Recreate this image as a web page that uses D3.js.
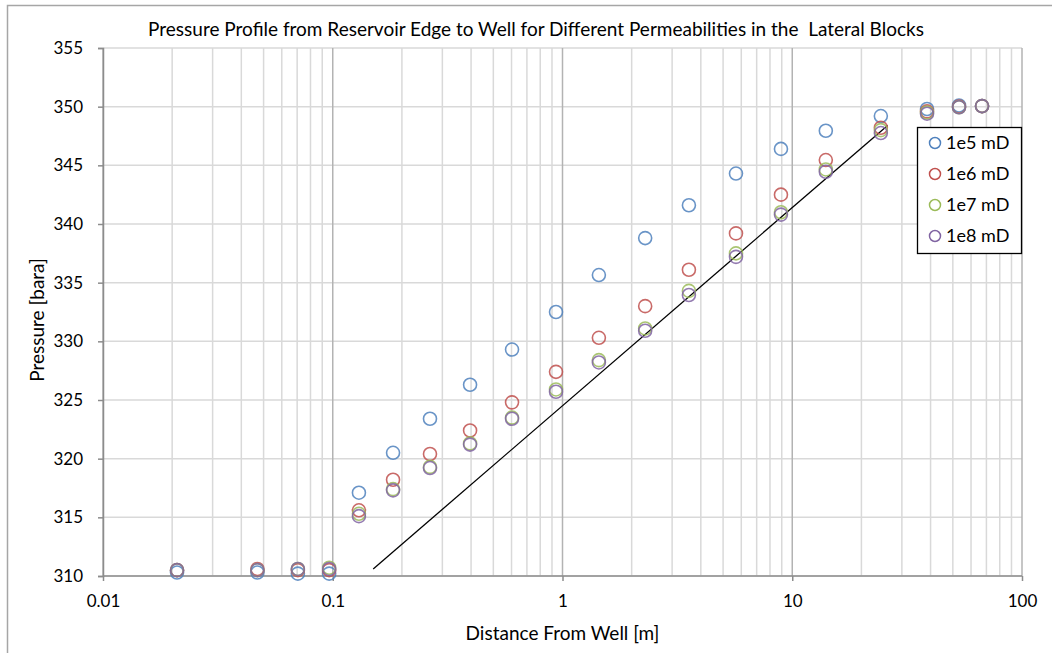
<!DOCTYPE html>
<html>
<head>
<style>
body { margin: 0; background: #fff; }
svg text { font-family: Lato, "Open Sans", sans-serif; fill: #000; }
.grid line { stroke: #d9d9d9; stroke-width: 1.5; }
.grid .major { stroke: #b3b3b3; }
</style>
</head>
<body>
<div id="container"></div>
<script src="https://d3js.org/d3.v7.min.js"></script>
<script>

const width = 1052;
const height = 653;

// distance from well [m]
const distances = [0.021, 0.047, 0.0705, 0.0965, 0.13, 0.183, 0.265, 0.396, 0.603, 0.937,
                   1.44, 2.29, 3.55, 5.69, 8.93, 14.0, 24.3, 38.6, 53.2, 67.0];

const series = ['1e5 mD', '1e6 mD', '1e7 mD', '1e8 mD'];
const colors = ['#4f81bd', '#c0504d', '#9bbb59', '#8064a2'];

const p1e5 = [310.3, 310.3, 310.2, 310.2, 317.1, 320.5, 323.4, 326.3, 329.3, 332.5,
              335.65, 338.8, 341.6, 344.3, 346.4, 347.95, 349.2, 349.8, 350.1, 350.05];
const p1e6 = [310.5, 310.6, 310.5, 310.5, 315.6, 318.2, 320.4, 322.4, 324.8, 327.4,
              330.3, 333.0, 336.1, 339.2, 342.5, 345.45, 348.2, 349.6, 350.0, 350.05];
const p1e7 = [310.5, 310.5, 310.6, 310.7, 315.3, 317.4, 319.3, 321.3, 323.5, 325.9,
              328.4, 331.1, 334.3, 337.5, 341.0, 344.65, 348.0, 349.5, 349.95, 350.05];
const p1e8 = [310.5, 310.5, 310.6, 310.6, 315.1, 317.3, 319.2, 321.2, 323.4, 325.7,
              328.2, 330.9, 333.95, 337.2, 340.8, 344.45, 347.75, 349.4, 349.95, 350.05];
const pressures = [p1e5, p1e6, p1e7, p1e8];

// straight reference line
const trendX = [0.15, 26];
const trendY = [310.6, 348.4];

const xTicks = [0.01, 0.1, 1, 10, 100];
const yTicks = [310, 315, 320, 325, 330, 335, 340, 345, 350, 355];

const margin = {left: 103, right: 30, top: 48, bottom: 77};

const svg = d3.select('#container').append('svg')
    .attr('width', width).attr('height', height);

// outer chart frame
svg.append('rect')
    .attr('x', 7.5).attr('y', 5.5)
    .attr('width', width).attr('height', height)
    .attr('fill', 'none').attr('stroke', '#a6a6a6').attr('stroke-width', 1.5);

const x = d3.scaleLog().domain([0.01, 100]).range([margin.left, width - margin.right]);
const y = d3.scaleLinear().domain([310, 355]).range([height - margin.bottom, margin.top]);

// minor + major vertical grid
const minor = [];
for (let d = -2; d < 2; d++) {
    for (let m = 2; m <= 9; m++) minor.push(m * Math.pow(10, d));
}
const grid = svg.append('g').attr('class', 'grid');
grid.selectAll('.vminor').data(minor).enter().append('line')
    .attr('x1', d => x(d)).attr('x2', d => x(d))
    .attr('y1', y(355)).attr('y2', y(310));
grid.selectAll('.hgrid').data(yTicks).enter().append('line')
    .attr('x1', x(0.01)).attr('x2', x(100))
    .attr('y1', d => y(d)).attr('y2', d => y(d));
grid.selectAll('.vmajor').data(xTicks).enter().append('line')
    .attr('class', 'major')
    .attr('x1', d => x(d)).attr('x2', d => x(d))
    .attr('y1', y(355)).attr('y2', y(310));

// axes
const xAxis = svg.append('g')
    .attr('transform', `translate(0,${y(310)})`)
    .call(d3.axisBottom(x).tickValues(xTicks).tickSize(5).tickPadding(14)
        .tickFormat(d => String(d)));
const yAxis = svg.append('g')
    .attr('transform', `translate(${x(0.01)},0)`)
    .call(d3.axisLeft(y).tickValues(yTicks).tickSize(5).tickPadding(15));
[xAxis, yAxis].forEach(a => {
    a.selectAll('path, line').attr('stroke', '#8c8c8c').attr('stroke-width', 1.5);
    a.selectAll('text').style('font-size', '17px').attr('fill', '#000');
});
xAxis.select('.domain').attr('d', `M${x(0.01)},0H${x(100)}`);

// reference line
svg.append('line')
    .attr('x1', x(trendX[0])).attr('y1', y(trendY[0]))
    .attr('x2', x(trendX[1])).attr('y2', y(trendY[1]))
    .attr('stroke', '#000').attr('stroke-width', 1.3);

// markers
series.forEach((s, i) => {
    svg.append('g').selectAll('circle')
        .data(distances.map((d, j) => [d, pressures[i][j]]))
        .enter().append('circle')
        .attr('cx', d => x(d[0])).attr('cy', d => y(d[1]))
        .attr('r', 6.5)
        .attr('fill', 'none').attr('stroke', colors[i]).attr('stroke-width', 1.6)
        .attr('stroke-opacity', 0.85);
});

// title + axis titles
svg.append('text')
    .attr('x', 536).attr('y', 36)
    .attr('text-anchor', 'middle').style('font-size', '19px')
    .attr('xml:space', 'preserve')
    .text('Pressure Profile from Reservoir Edge to Well for Different Permeabilities in the  Lateral Blocks');
svg.append('text')
    .attr('x', x(1)).attr('y', 640)
    .attr('text-anchor', 'middle').style('font-size', '19px')
    .text('Distance From Well [m]');
svg.append('text')
    .attr('transform', `translate(44,320) rotate(-90)`)
    .attr('text-anchor', 'middle').style('font-size', '19px')
    .text('Pressure [bara]');

// legend
const legend = svg.append('g').attr('transform', 'translate(917,127)');
legend.append('rect')
    .attr('x', 0.5).attr('y', 0.5).attr('width', 104).attr('height', 126)
    .attr('fill', '#fff').attr('stroke', '#000').attr('stroke-width', 1.3);
series.forEach((s, i) => {
    const g = legend.append('g').attr('transform', `translate(0,${16 + i * 31})`);
    g.append('circle').attr('cx', 18).attr('cy', 0).attr('r', 5.5)
        .attr('fill', 'none').attr('stroke', colors[i]).attr('stroke-width', 1.5);
    g.append('text').attr('x', 29).attr('y', 6)
        .style('font-size', '18px').text(s);
});

</script>
</body>
</html>
